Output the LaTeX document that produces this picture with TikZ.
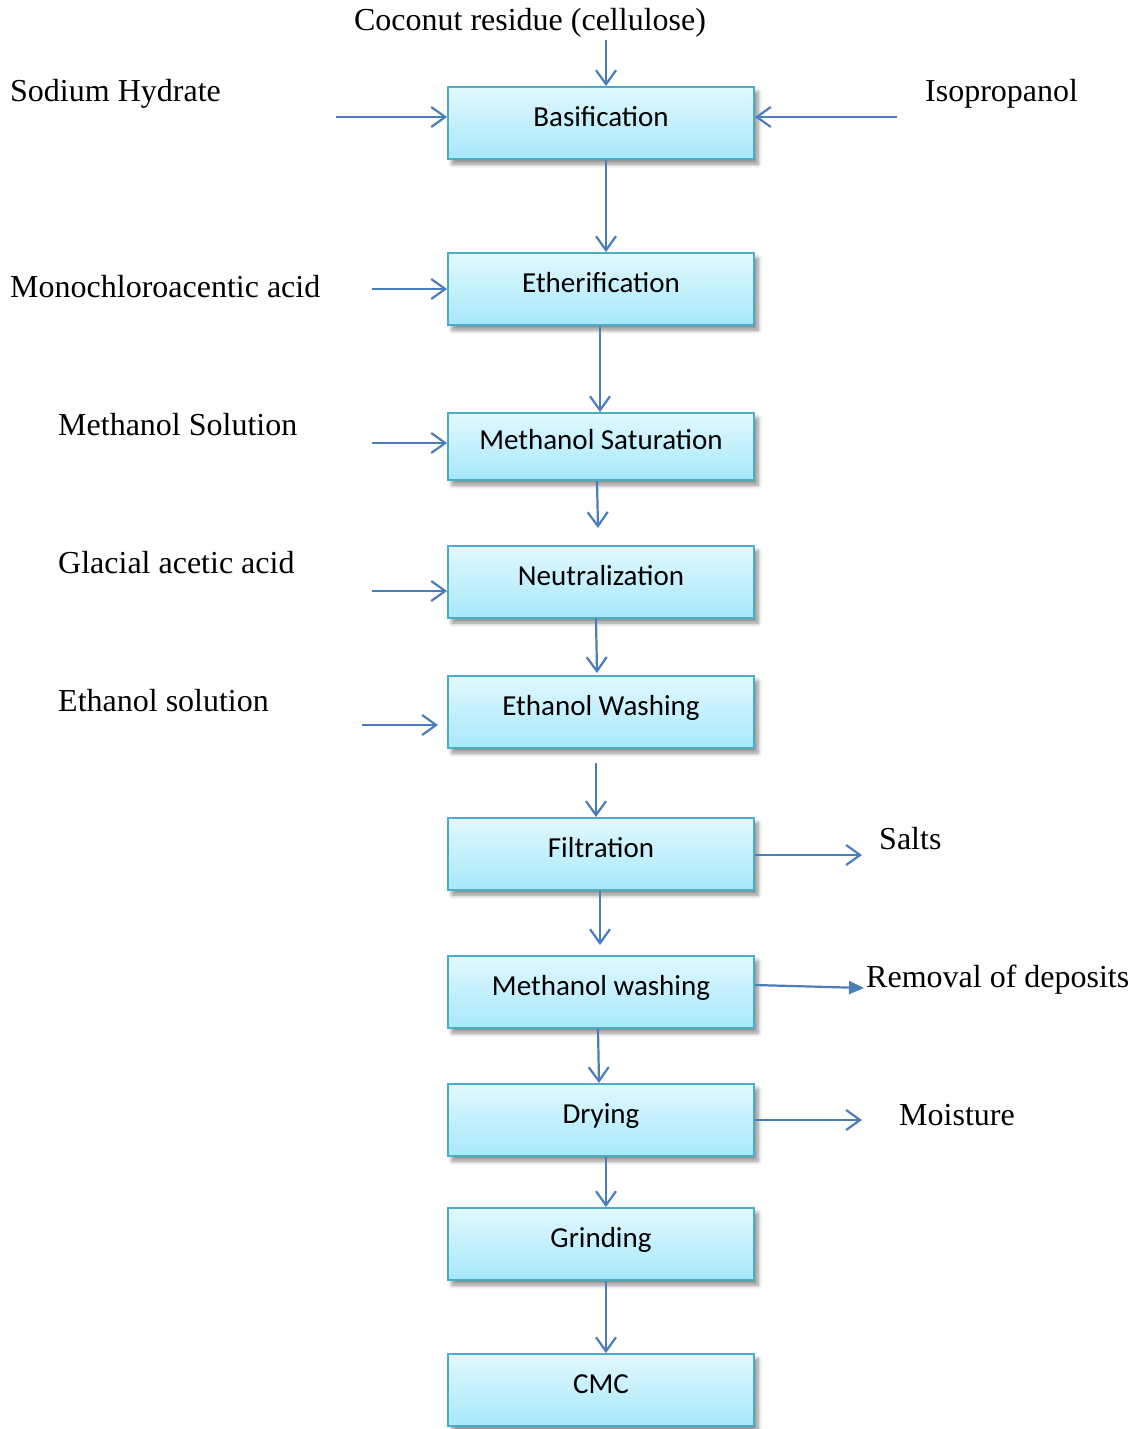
\documentclass[tikz,border=0pt]{standalone}
\usepackage{fontspec}
\setmainfont{Liberation Serif}
\newfontfamily\boxfont{Carlito}
\usetikzlibrary{arrows.meta,shadows.blur}
\definecolor{arrblue}{HTML}{4A7EBB}
\definecolor{boxborder}{HTML}{4BACC6}
\definecolor{boxtop}{HTML}{E2F8FE}
\definecolor{boxbot}{HTML}{A6E8FB}
\tikzset{
  procbox/.style={draw=boxborder, line width=1.8pt, top color=boxtop, bottom color=boxbot,
    minimum width=306pt, minimum height=72pt, inner sep=0pt,
    text height=21pt, text depth=15pt, font=\boxfont\fontsize{29}{33}\selectfont,
    blur shadow={shadow xshift=4pt, shadow yshift=-5pt, shadow blur steps=6, shadow blur radius=4pt, shadow opacity=45}},
  lbl/.style={font=\fontsize{32}{36}\selectfont, inner sep=0pt},
  arr/.style={draw=arrblue, line width=2.2pt, -{Straight Barb[length=14pt,width=20pt,line width=2.2pt]}},
  farr/.style={draw=arrblue, line width=2.2pt, -{Triangle[length=15pt,width=13pt]}, arrblue}
}
\begin{document}
\begin{tikzpicture}[x=1pt,y=-1pt]
\useasboundingbox (0,0) rectangle (1142,1429);
% boxes
\node[procbox] (bas) at (601,123) {Basification};
\node[procbox] (eth) at (601,289) {Etherification};
\node[procbox, minimum height=67pt] (msat) at (601,446.5) {Methanol Saturation};
\node[procbox] (neu) at (601,582) {Neutralization};
\node[procbox] (ewash) at (601,712) {Ethanol Washing};
\node[procbox] (fil) at (601,854) {Filtration};
\node[procbox] (mwash) at (601,992) {Methanol washing};
\node[procbox] (dry) at (601,1120) {Drying};
\node[procbox] (gri) at (601,1244) {Grinding};
\node[procbox] (cmc) at (601,1390) {CMC};
% labels
\node[lbl, anchor=base] (coco) at (530,31) {Coconut residue (cellulose)};
\node[lbl, anchor=base west] (sod) at (10,101) {Sodium Hydrate};
\node[lbl, anchor=base west] (iso) at (925,101) {Isopropanol};
\node[lbl, anchor=base west] (mono) at (10,297) {Monochloroacentic acid};
\node[lbl, anchor=base west] (msol) at (58,435) {Methanol Solution};
\node[lbl, anchor=base west] (gla) at (58,573) {Glacial acetic acid};
\node[lbl, anchor=base west] (esol) at (58,711) {Ethanol solution};
\node[lbl, anchor=base west] (salts) at (879,849) {Salts};
\node[lbl, anchor=base west] (rem) at (866,987) {Removal of deposits};
\node[lbl, anchor=base west] (moi) at (899,1125) {Moisture};
% free ends
\coordinate (c0) at (606,40);
\coordinate (c1) at (336,117);
\coordinate (c2) at (897,117);
\coordinate (c3) at (372,289);
\coordinate (c4) at (372,443);
\coordinate (c5) at (372,591);
\coordinate (c6a) at (362,725);
\coordinate (c6b) at (438,725);
\coordinate (c7) at (598,528);
\coordinate (c8) at (597,673);
\coordinate (c9a) at (596,763);
\coordinate (c9b) at (596,817);
\coordinate (c10) at (600,945);
\coordinate (c11) at (599,1083);
\coordinate (s1) at (862,855);
\coordinate (s2) at (864,988);
\coordinate (s3) at (862,1120);
% inputs
\draw[arr] (c0) -- (c0 |- bas.north);
\draw[arr] (c1) -- (c1 -| bas.west);
\draw[arr] (c2) -- (c2 -| bas.east);
\draw[arr] (c3) -- (c3 -| eth.west);
\draw[arr] (c4) -- (c4 -| msat.west);
\draw[arr] (c5) -- (c5 -| neu.west);
\draw[arr] (c6a) -- (c6b);
% main chain
\draw[arr] ([xshift=5pt]bas.south) -- ([xshift=5pt]eth.north);
\draw[arr] ([xshift=-1pt]eth.south) -- ([xshift=-1pt]msat.north);
\draw[arr] ([xshift=-4pt]msat.south) -- (c7);
\draw[arr] ([xshift=-5pt]neu.south) -- (c8);
\draw[arr] (c9a) -- (c9b);
\draw[arr] ([xshift=-1pt]fil.south) -- (c10);
\draw[arr] ([xshift=-3pt]mwash.south) -- (c11);
\draw[arr] ([xshift=5pt]dry.south) -- ([xshift=5pt]gri.north);
\draw[arr] ([xshift=5pt]gri.south) -- ([xshift=5pt]cmc.north);
% outputs
\draw[arr] (s1 -| fil.east) -- (s1);
\draw[farr] ([yshift=7pt]mwash.east) -- (s2);
\draw[arr] (s3 -| dry.east) -- (s3);
\end{tikzpicture}
\end{document}
